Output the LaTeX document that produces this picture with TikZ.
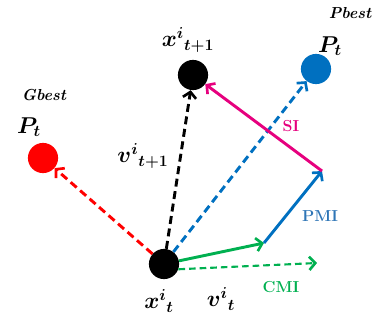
\documentclass[tikz,border=0pt]{standalone}
\usepackage{amsmath}
\usepackage{amssymb}
\usepackage{bm}
\usepackage{tikz}
\usetikzlibrary{arrows.meta, positioning, calc}
\definecolor{GbestRed}{HTML}{FF0000}
\definecolor{PbestBlue}{HTML}{0070C0}
\definecolor{PmiBlue}{HTML}{2E75B6}
\definecolor{CmiGreen}{HTML}{00B050}
\definecolor{SiPink}{HTML}{E6007E}

\tikzset{
  particle/.style={circle, minimum size=0.8cm, inner sep=0pt},
  move/.style={line width=2.2pt, -{Straight Barb[length=4.5pt, width=10pt, line width=2pt]}},
  dashmove/.style={move, dash pattern=on 6pt off 3.5pt},
  tag/.style={font=\bfseries\itshape\large},
  lbl/.style={font=\bfseries\large},
  sym/.style={font=\LARGE}
}

\begin{document}
\begin{tikzpicture}[x=0.0265cm, y=-0.0265cm]
  \useasboundingbox (0,0) rectangle (377,320);
  % particles
  \node[particle, fill=black] (xt) at (164,264) {};
  \node[particle, fill=black] (xtnext) at (193,75) {};
  \node[particle, fill=GbestRed] (gbest) at (43,158) {};
  \node[particle, fill=PbestBlue] (pbest) at (316,69) {};
  \coordinate (cmitip) at (264,243);
  \coordinate (pmitip) at (322,171);
  \coordinate (velend) at (317,263);

  % texts
  \node[tag] at (44,95) {Gbest};
  \node[sym] at (29,127) {$\boldsymbol{P_t}$};
  \node[tag] at (350,13) {Pbest};
  \node[sym] at (330,46) {$\boldsymbol{P_t}$};
  \node[sym] at (188,40) {$\boldsymbol{{x^{i}}_{t+1}}$};
  \node[sym] at (143,156) {$\boldsymbol{{v^{i}}_{t+1}}$};
  \node[sym] at (159,301) {$\boldsymbol{{x^{i}}_{t}}$};
  \node[sym] at (221,299) {$\boldsymbol{{v^{i}}_{t}}$};
  \node[lbl, text=SiPink] at (291,126) {SI};
  \node[lbl, text=PmiBlue] at (320,216) {PMI};
  \node[lbl, text=CmiGreen] at (281,287) {CMI};

  % moves
  \draw[dashmove, GbestRed] (xt) -- (gbest);
  \draw[dashmove, PbestBlue] (xt) -- (pbest);
  \draw[dashmove, black] (xt) -- (xtnext);
  \draw[dashmove, CmiGreen, line width=1.6pt, dash pattern=on 5pt off 3pt] (xt.-20) -- (velend);
  \draw[move, CmiGreen] (xt) -- (cmitip);
  \draw[move, PbestBlue] (cmitip) -- (pmitip);
  \draw[move, SiPink] (pmitip) -- (xtnext);
\end{tikzpicture}
\end{document}
